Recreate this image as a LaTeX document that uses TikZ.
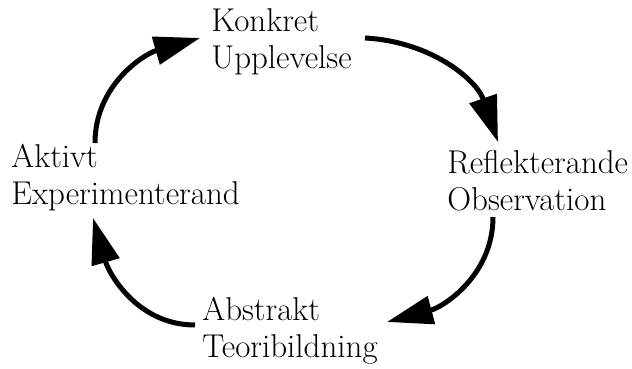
\documentclass[tikz,border=0pt]{standalone}
\usetikzlibrary{arrows.meta,calc}
\begin{document}
\begin{tikzpicture}[x=0.5pt,y=0.5pt,
        stage/.style={anchor=north west,inner sep=0pt,align=left,font=\fontsize{16.5}{18.5}\selectfont},
        cyc/.style={line width=2.5pt,-{Triangle[length=23pt,width=14pt]}}]
        \useasboundingbox (0,0) rectangle (632,-369);
        \node[stage] (kon) at (211,-8) {Konkret\\Upplevelse};
        \node[stage] (ref) at (447,-150) {Reflekterande\\Observation};
        \node[stage] (abs) at (202,-297) {Abstrakt\\Teoribildning};
        \node[stage] (akt) at (11,-144) {Aktivt\\Experimenterand};
        \draw[cyc] ($(akt.north west)+(84,1)$) to[out=90,in=196] ($(kon.north west)+(-11,-30)$);
        \draw[cyc] ($(kon.north west)+(154,-30)$) to[out=-3,in=109] ($(ref.north west)+(51,8)$);
        \draw[cyc] ($(ref.north west)+(46,-67)$) to[out=-90,in=15] ($(abs.north west)+(185,-25)$);
        \draw[cyc] ($(abs.north west)+(-7,-28)$) to[out=180,in=-74] ($(akt.north west)+(82,-74)$);
    \end{tikzpicture}
\end{document}
